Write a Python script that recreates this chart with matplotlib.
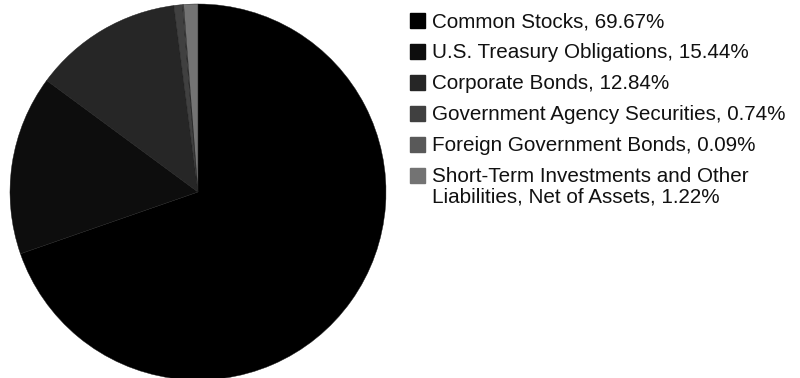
import matplotlib
matplotlib.use('Agg')
import matplotlib.pyplot as plt
from matplotlib.patches import Rectangle

plt.rcParams['font.family'] = ['Liberation Sans', 'DejaVu Sans']

# Portfolio allocation
categories = [
    'Common Stocks',
    'U.S. Treasury Obligations',
    'Corporate Bonds',
    'Government Agency Securities',
    'Foreign Government Bonds',
    'Short-Term Investments and Other\nLiabilities, Net of Assets',
]
weights = [69.67, 15.44, 12.84, 0.74, 0.09, 1.22]
colors = ['#000000', '#0d0d0d', '#262626', '#404040', '#595959', '#737373']

fig = plt.figure(figsize=(8, 3.78), dpi=100)

# pie axes, circle slightly clipped at the bottom edge
W, H = 800, 378
ax = fig.add_axes([10 / W, (H - 380) / H, 376 / W, 376 / H])
ax.pie(weights, colors=colors, startangle=90, counterclock=False,
       radius=1.0, wedgeprops=dict(linewidth=0.3, edgecolor='#1a1a1a'))
ax.set_xlim(-1, 1)
ax.set_ylim(-1, 1)
ax.set_aspect('equal')
ax.axis('off')

# legend drawn by hand: square swatch + label
row_y = [20, 51, 82, 113, 144, 175]
for y, name, w, c in zip(row_y, categories, weights, colors):
    fig.patches.append(Rectangle((410 / W, 1 - (y + 7.5) / H), 15 / W, 15 / H,
                                 transform=fig.transFigure, color=c))
    fig.text(432 / W, 1 - (y - 8) / H, f'{name}, {w:.2f}%', fontsize=14.9,
             va='top', ha='left', color='#111111', linespacing=1.07)

fig.savefig('out.png', dpi=100)
